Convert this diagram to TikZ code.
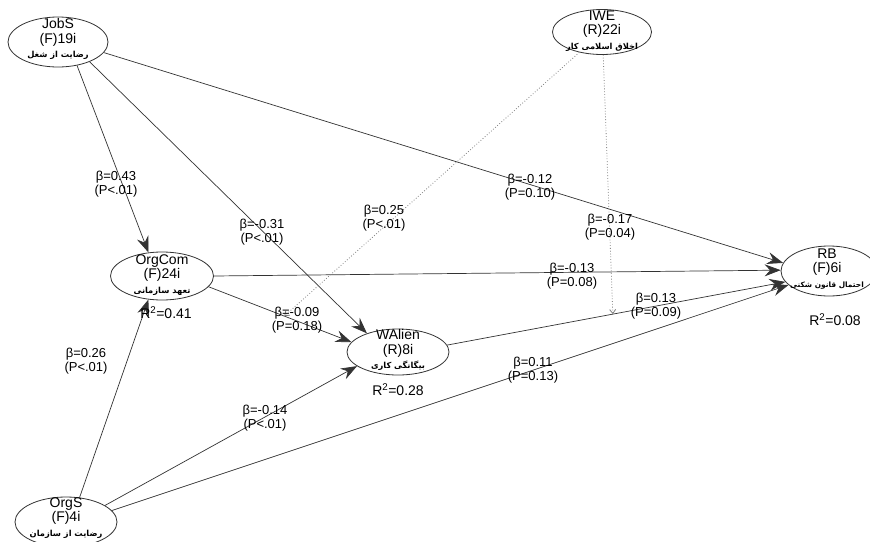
\documentclass[tikz,border=0pt]{standalone}
\usepackage{fontspec}
\setmainfont{Liberation Sans}
\newfontfamily\fafont[Script=Arabic]{DejaVu Sans}
\TeXXeTstate=1
\usetikzlibrary{arrows.meta,shapes.geometric}
\newcommand{\fatext}[1]{{\fafont\bfseries\fontsize{8.3}{10}\selectfont\beginR #1\endR}}
\begin{document}
\begin{tikzpicture}[x=1pt,y=-1pt]
\tikzset{
  latent/.style={ellipse, draw=black!80, line width=0.8pt, inner sep=0pt},
  vtext/.style={align=center, inner sep=0pt, font=\fontsize{14}{14.5}\selectfont},
  rel/.style={draw=black!80, line width=0.7pt, -{Stealth[length=16pt,width=12pt,inset=5.5pt]}},
  mod/.style={draw=black!50, dotted, line width=0.8pt, -{Straight Barb[length=4pt,width=6pt]}},
  coef/.style={align=center, inner sep=0pt, font=\fontsize{13}{14.5}\selectfont},
  rsq/.style={inner sep=0pt, font=\fontsize{14}{14}\selectfont}
}
\fill[white] (0,0) rectangle (870,541);
\useasboundingbox (0,0) rectangle (870,541);

% latent variables
\node[latent, minimum width=100pt, minimum height=50pt] (JobS) at (58,42) {};
\node[latent, minimum width=99pt, minimum height=45pt] (IWE) at (602,32) {};
\node[latent, minimum width=103pt, minimum height=48pt] (OrgCom) at (162,276) {};
\node[latent, minimum width=102pt, minimum height=46pt] (WAlien) at (398,352) {};
\node[latent, minimum width=96pt, minimum height=50pt] (RB) at (829,271) {};
\node[latent, minimum width=102pt, minimum height=50pt] (OrgS) at (66,522) {};

\node[vtext] (JobSt) at (58,39) {JobS\\(F)19i\\\fatext{رضایت از شغل}};
\node[vtext] (IWEt) at (602,31) {IWE\\(R)22i\\\fatext{اخلاق اسلامی کار}};
\node[vtext] (OrgComt) at (162,275) {OrgCom\\(F)24i\\\fatext{تعهد سازمانی}};
\node[vtext] (WAlient) at (398,350) {WAlien\\(R)8i\\\fatext{بیگانگی کاری}};
\node[vtext] (RBt) at (827,269) {RB\\(F)6i\\{\fafont\bfseries\fontsize{7.4}{10}\selectfont\beginR احتمال قانون شکنی\endR}};
\node[vtext] (OrgSt) at (66,518) {OrgS\\(F)4i\\\fatext{رضایت از سازمان}};

% structural paths
\draw[rel] (JobS.-51) -- (OrgCom.120);
\draw[rel] (JobS.-32) -- (WAlien.149);
\draw[rel] (JobS.-13) -- (RB.170);
\draw[rel] (OrgCom.0) -- (RB.179);
\draw[rel] (OrgCom.-13) -- coordinate[pos=0.53] (m1) (WAlien.168);
\draw[rel] (WAlien.8) -- coordinate[pos=0.49] (m2) (RB.194);
\draw[rel] (OrgS.61) -- (OrgCom.-120);
\draw[rel] (OrgS.23) -- (WAlien.199);
\draw[rel] (OrgS.14) -- (RB.199);

% moderation paths
\draw[mod] (IWE.222) -- (m1);
\draw[mod] (IWE.-87) -- (m2);

% coefficients
\node[coef] (c1) at (116,184) {β=0.43\\(P<.01)};
\node[coef] (c2) at (262,232) {β=-0.31\\(P<.01)};
\node[coef] (c3) at (384,218) {β=0.25\\(P<.01)};
\node[coef] (c4) at (530,187) {β=-0.12\\(P=0.10)};
\node[coef] (c5) at (610,227) {β=-0.17\\(P=0.04)};
\node[coef] (c6) at (572,276) {β=-0.13\\(P=0.08)};
\node[coef] (c7) at (297,320) {β=-0.09\\(P=0.18)};
\node[coef] (c8) at (656,306) {β=0.13\\(P=0.09)};
\node[coef] (c9) at (533,370) {β=0.11\\(P=0.13)};
\node[coef] (c10) at (265,418) {β=-0.14\\(P<.01)};
\node[coef] (c11) at (86,361) {β=0.26\\(P<.01)};

% R squared
\node[rsq] (r1) at (166,313) {R\textsuperscript{2}=0.41};
\node[rsq] (r2) at (398,390) {R\textsuperscript{2}=0.28};
\node[rsq] (r3) at (835,320) {R\textsuperscript{2}=0.08};
\end{tikzpicture}
\end{document}
